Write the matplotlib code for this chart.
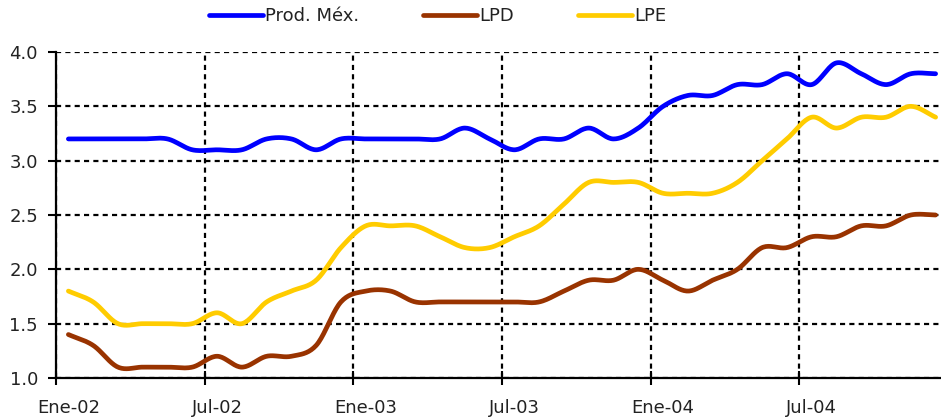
import numpy as np
import matplotlib.pyplot as plt

# Monthly series, Jan 2002 - Dec 2004
prod_mex = [3.2, 3.2, 3.2, 3.2, 3.2, 3.1, 3.1, 3.1, 3.2, 3.2, 3.1, 3.2,
            3.2, 3.2, 3.2, 3.2, 3.3, 3.2, 3.1, 3.2, 3.2, 3.3, 3.2, 3.3,
            3.5, 3.6, 3.6, 3.7, 3.7, 3.8, 3.7, 3.9, 3.8, 3.7, 3.8, 3.8]
lpd = [1.4, 1.3, 1.1, 1.1, 1.1, 1.1, 1.2, 1.1, 1.2, 1.2, 1.3, 1.7,
       1.8, 1.8, 1.7, 1.7, 1.7, 1.7, 1.7, 1.7, 1.8, 1.9, 1.9, 2.0,
       1.9, 1.8, 1.9, 2.0, 2.2, 2.2, 2.3, 2.3, 2.4, 2.4, 2.5, 2.5]
lpe = [1.8, 1.7, 1.5, 1.5, 1.5, 1.5, 1.6, 1.5, 1.7, 1.8, 1.9, 2.2,
       2.4, 2.4, 2.4, 2.3, 2.2, 2.2, 2.3, 2.4, 2.6, 2.8, 2.8, 2.8,
       2.7, 2.7, 2.7, 2.8, 3.0, 3.2, 3.4, 3.3, 3.4, 3.4, 3.5, 3.4]
tick_labels = ['Ene-02', 'Jul-02', 'Ene-03', 'Jul-03', 'Ene-04', 'Jul-04']

series = [('Prod. Méx.', prod_mex, '#0000FF'),
          ('LPD', lpd, '#993300'),
          ('LPE', lpe, '#FFCC00')]


def smooth(y, steps=20):
    # Catmull-Rom curve through every point, like a spreadsheet "smoothed line"
    y = np.asarray(y, dtype=float)
    x = np.arange(len(y), dtype=float)
    xp = np.concatenate([[2 * x[0] - x[1]], x, [2 * x[-1] - x[-2]]])
    yp = np.concatenate([[2 * y[0] - y[1]], y, [2 * y[-1] - y[-2]]])
    t = np.linspace(0, 1, steps, endpoint=False)
    xs, ys = [], []
    for i in range(1, len(xp) - 2):
        for arr, out in ((xp, xs), (yp, ys)):
            p0, p1, p2, p3 = arr[i - 1], arr[i], arr[i + 1], arr[i + 2]
            out.append(0.5 * (2 * p1 + (-p0 + p2) * t
                              + (2 * p0 - 5 * p1 + 4 * p2 - p3) * t ** 2
                              + (-p0 + 3 * p1 - 3 * p2 + p3) * t ** 3))
    xs.append([x[-1]])
    ys.append([y[-1]])
    return np.concatenate(xs), np.concatenate(ys)


plt.rcParams['font.family'] = 'DejaVu Sans'
fig = plt.figure(figsize=(9.41, 4.19), dpi=100)
ax = fig.add_axes([56 / 941, 41 / 419, 892 / 941, 326 / 419])

for name, vals, col in series:
    xs, ys = smooth(vals)
    ax.plot(xs, ys, color=col, lw=3.4, label=name, solid_capstyle='round',
            zorder=3)

n = len(prod_mex)
ax.set_xlim(-0.5, n - 0.5)
ax.set_ylim(1.0, 4.0)
ax.set_yticks(np.arange(1.0, 4.01, 0.5))
ax.set_yticklabels([f'{v:.1f}' for v in np.arange(1.0, 4.01, 0.5)])

# grid at the category boundaries, labels centred on the month
ax.set_xticks(np.arange(-0.5, n, 6))
ax.set_xticklabels([])
ax.set_xticks(np.arange(0, n, 6), tick_labels, minor=True)
ax.tick_params(axis='x', which='major', direction='inout', length=10, width=1.5)
ax.tick_params(axis='x', which='minor', length=0, pad=15, labelsize=13,
               labelcolor='#222222')
ax.tick_params(axis='y', direction='out', length=6, width=1.5, pad=7,
               labelsize=13, labelcolor='#222222')

ax.grid(True, which='major', color='black', lw=1.6, ls=(0, (2.3, 1.9)))
for side in ('top', 'right'):
    ax.spines[side].set_visible(False)
for side in ('left', 'bottom'):
    ax.spines[side].set_linewidth(1.6)

fig.legend(loc='center', bbox_to_anchor=(0.465, 0.962), ncol=3, frameon=False,
           fontsize=13, handlelength=3.0, handletextpad=0.15,
           columnspacing=3.5, labelcolor='#222222')

fig.savefig('out.png', dpi=100)
